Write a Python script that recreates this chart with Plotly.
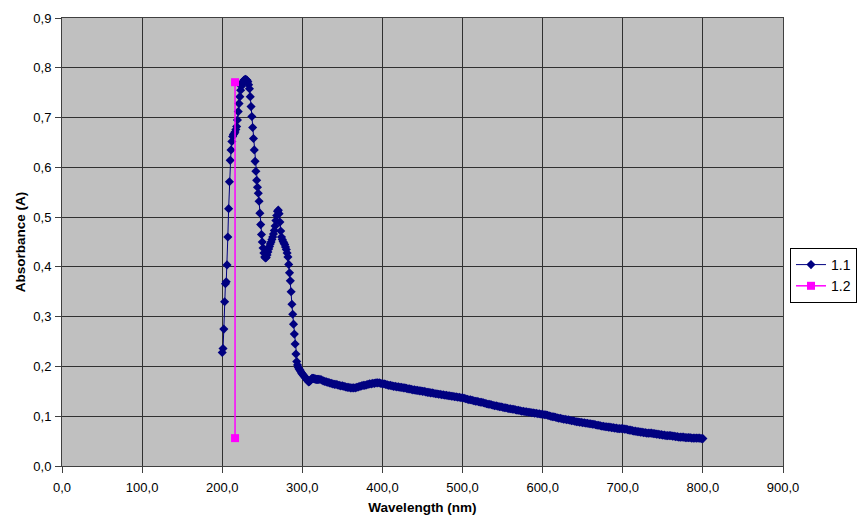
import plotly.graph_objects as go

# Series 1.1: 1 nm steps 200-320, then 2 nm steps 322-800
wl_a = list(range(200, 321))
abs_a = [
    0.228, 0.236, 0.275, 0.330, 0.366, 0.370, 0.404, 0.460, 0.517, 0.571,  # 200-209
    0.614, 0.635, 0.652, 0.662, 0.666, 0.668, 0.671, 0.676, 0.682, 0.695,  # 210-219
    0.712, 0.728, 0.742, 0.755, 0.763, 0.768, 0.772, 0.775, 0.776, 0.777,  # 220-229
    0.776, 0.775, 0.772, 0.766, 0.758, 0.742, 0.722, 0.702, 0.680, 0.658,  # 230-239
    0.635, 0.612, 0.592, 0.574, 0.560, 0.548, 0.532, 0.508, 0.485, 0.465,  # 240-249
    0.450, 0.438, 0.428, 0.420, 0.418, 0.419, 0.424, 0.430, 0.436, 0.441,  # 250-259
    0.446, 0.450, 0.455, 0.460, 0.466, 0.473, 0.482, 0.493, 0.503, 0.512,  # 260-269
    0.514, 0.507, 0.490, 0.472, 0.460, 0.455, 0.451, 0.448, 0.445, 0.440,  # 270-279
    0.435, 0.428, 0.420, 0.405, 0.388, 0.372, 0.350, 0.325, 0.305, 0.285,  # 280-289
    0.265, 0.245, 0.225, 0.210, 0.203, 0.198, 0.195, 0.193, 0.190, 0.187,  # 290-299
    0.185, 0.183, 0.181, 0.179, 0.177, 0.175, 0.173, 0.171, 0.169, 0.170,  # 300-309
    0.172, 0.174, 0.176, 0.176, 0.176, 0.175, 0.175, 0.174, 0.174, 0.174,  # 310-319
    0.174,                                                                 # 320
]
wl_b = list(range(322, 801, 2))
abs_b = [
    # 322-340
    0.174, 0.173, 0.171, 0.170, 0.169, 0.168, 0.167, 0.166, 0.165, 0.164,
    # 342-360
    0.164, 0.163, 0.162, 0.161, 0.161, 0.160, 0.159, 0.158, 0.158, 0.157,
    # 362-380
    0.157, 0.157, 0.157, 0.158, 0.159, 0.160, 0.161, 0.162, 0.162, 0.163,
    # 382-400
    0.164, 0.165, 0.165, 0.166, 0.166, 0.167, 0.167, 0.167, 0.166, 0.165,
    # 402-420
    0.165, 0.164, 0.163, 0.162, 0.162, 0.161, 0.160, 0.160, 0.159, 0.159,
    # 422-440
    0.158, 0.158, 0.157, 0.157, 0.156, 0.155, 0.155, 0.154, 0.153, 0.153,
    # 442-460
    0.152, 0.152, 0.151, 0.151, 0.150, 0.150, 0.149, 0.148, 0.148, 0.147,
    # 462-480
    0.147, 0.146, 0.145, 0.145, 0.144, 0.144, 0.143, 0.143, 0.142, 0.142,
    # 482-500
    0.141, 0.141, 0.140, 0.140, 0.139, 0.139, 0.138, 0.138, 0.137, 0.137,
    # 502-520
    0.136, 0.135, 0.134, 0.133, 0.133, 0.132, 0.131, 0.130, 0.130, 0.129,
    # 522-540
    0.128, 0.128, 0.127, 0.126, 0.125, 0.124, 0.124, 0.123, 0.122, 0.121,
    # 542-560
    0.121, 0.120, 0.119, 0.119, 0.118, 0.117, 0.117, 0.116, 0.115, 0.115,
    # 562-580
    0.114, 0.114, 0.113, 0.112, 0.112, 0.111, 0.110, 0.110, 0.109, 0.109,
    # 582-600
    0.108, 0.108, 0.107, 0.107, 0.106, 0.106, 0.105, 0.105, 0.104, 0.104,
    # 602-620
    0.103, 0.103, 0.102, 0.101, 0.100, 0.099, 0.099, 0.098, 0.097, 0.096,
    # 622-640
    0.096, 0.095, 0.094, 0.094, 0.093, 0.093, 0.092, 0.091, 0.091, 0.090,
    # 642-660
    0.089, 0.089, 0.088, 0.088, 0.087, 0.087, 0.086, 0.086, 0.085, 0.085,
    # 662-680
    0.084, 0.084, 0.083, 0.082, 0.082, 0.081, 0.080, 0.080, 0.079, 0.079,
    # 682-700
    0.078, 0.078, 0.077, 0.077, 0.076, 0.076, 0.075, 0.075, 0.075, 0.075,
    # 702-720
    0.074, 0.074, 0.073, 0.072, 0.072, 0.071, 0.070, 0.070, 0.069, 0.069,
    # 722-740
    0.068, 0.068, 0.067, 0.067, 0.066, 0.066, 0.066, 0.066, 0.065, 0.065,
    # 742-760
    0.064, 0.064, 0.063, 0.063, 0.062, 0.062, 0.061, 0.061, 0.061, 0.061,
    # 762-780
    0.060, 0.060, 0.059, 0.059, 0.058, 0.058, 0.058, 0.058, 0.057, 0.057,
    # 782-800
    0.057, 0.057, 0.056, 0.056, 0.056, 0.056, 0.056, 0.056, 0.055, 0.055,
]
wavelength_11 = wl_a + wl_b
absorbance_11 = abs_a + abs_b

# Series 1.2
wavelength_12 = [216, 216]
absorbance_12 = [0.771, 0.056]

x_ticks = [0, 100, 200, 300, 400, 500, 600, 700, 800, 900]
y_ticks = [0.0, 0.1, 0.2, 0.3, 0.4, 0.5, 0.6, 0.7, 0.8, 0.9]

font_family = "Liberation Sans, Arial, sans-serif"

fig = go.Figure()
fig.add_trace(go.Scatter(
    x=wavelength_11, y=absorbance_11, name="1.1", mode="lines+markers",
    line=dict(color="#000080", width=1),
    marker=dict(symbol="diamond", size=7, color="#000080"),
))
fig.add_trace(go.Scatter(
    x=wavelength_12, y=absorbance_12, name="1.2", mode="lines+markers",
    line=dict(color="#ff00ff", width=1.5),
    marker=dict(symbol="square", size=8, color="#ff00ff"),
))

axis_common = dict(
    showgrid=True, gridcolor="#303030", gridwidth=1,
    showline=True, linecolor="#404040", linewidth=1, mirror=True,
    ticks="outside", ticklen=6, tickcolor="#404040", tickwidth=1,
    zeroline=False,
    tickfont=dict(family=font_family, size=13, color="#000000"),
)

fig.update_layout(
    width=861, height=517,
    margin=dict(l=62, r=78, t=18, b=51, autoexpand=False),
    paper_bgcolor="#ffffff", plot_bgcolor="#c0c0c0",
    separators=", ",
    font=dict(family=font_family, size=13, color="#000000"),
    xaxis=dict(range=[0, 900], tickvals=x_ticks, tickformat=".1f",
               ticklabelstandoff=3,
               title=dict(text="<b>Wavelength (nm)</b>", standoff=8,
                          font=dict(family=font_family, size=13.5)),
               **axis_common),
    yaxis=dict(range=[0, 0.9], tickvals=y_ticks, tickformat=".1f",
               ticklabelstandoff=1,
               title=dict(text="<b>Absorbance (A)</b>", standoff=4,
                          font=dict(family=font_family, size=13.5)),
               **axis_common),
    legend=dict(x=1.0097, y=0.4866, xanchor="left", yanchor="top",
                bgcolor="#ffffff", bordercolor="#000000", borderwidth=1,
                font=dict(family=font_family, size=14),
                tracegroupgap=0, itemwidth=30),
    showlegend=True,
)

fig.write_html("out.html")
